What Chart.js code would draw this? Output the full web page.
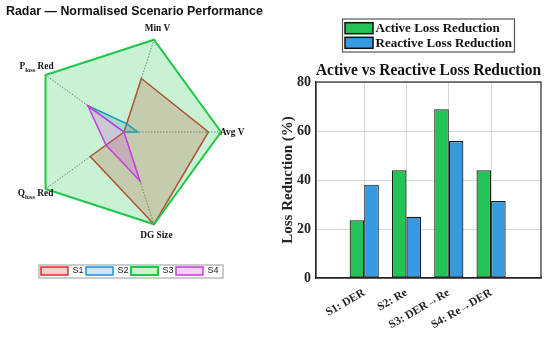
<!DOCTYPE html>
<html>
<head>
<meta charset="utf-8">
<script src="https://cdn.jsdelivr.net/npm/chart.js@4.4.0/dist/chart.umd.min.js"></script>
<style>
  body { margin: 0; background: #fff; }
  #wrap { position: relative; width: 550px; height: 341px; }
  #radar-box { position: absolute; left: 0; top: 0; width: 275px; height: 341px; }
  #bar-box { position: absolute; left: 275px; top: 0; width: 275px; height: 341px; }
  #radar-title { position: absolute; left: 6px; top: 4px; font: bold 12.4px 'Liberation Sans', Arial, sans-serif; color: #111; white-space: nowrap; }
</style>
</head>
<body>
<div id="wrap">
  <div id="radar-box"><canvas id="radar-chart" width="275" height="341"></canvas></div>
  <div id="radar-title">Radar — Normalised Scenario Performance</div>
  <div id="bar-box"><canvas id="bar-chart" width="275" height="341"></canvas></div>
</div>
<script>
// Radar data (normalised 0..1), axes listed clockwise starting from Avg V
const radarAxes = ['Avg V', 'DG Size', 'Q_loss Red', 'P_loss Red', 'Min V'];
const s1Values = [0.87, 1.0, 0.43, 0, 0.58];
const s2Values = [0.14, 0, 0, 0.46, 0.09];
const s3Values = [1, 1, 1, 1, 1];
const s4Values = [0, 0.53, 0.23, 0.46, 0];

// Bar data
const scenarios = ['S1: DER', 'S2: Re', 'S3: DER→Re', 'S4: Re→DER'];
const activeLoss = [23.6, 44, 68.9, 44];
const reactiveLoss = [38.1, 25, 55.9, 31.4];
const yTicks = [0, 20, 40, 60, 80];

const serif = "'Liberation Serif', 'Times New Roman', serif";
const sans = "'Liberation Sans', Arial, sans-serif";

// where each axis name sits relative to its outer vertex
const labelOffsets = [
    { dx: -1, dy: 0.5, align: 'left' },
    { dx: 2.5, dy: 11, align: 'center' },
    { dx: -10, dy: 5, align: 'center' },
    { dx: -9, dy: -8, align: 'center' },
    { dx: 3.5, dy: -11, align: 'center' }
];

// Axis names with subscripts (P_loss -> P + small "loss")
const radarLabels = {
    id: 'radarLabels',
    afterDraw(chart) {
        const scale = chart.scales.r;
        const ctx = chart.ctx;
        const mainFont = 'bold 9.3px ' + serif;
        const subFont = 'bold 6.5px ' + serif;
        ctx.save();
        ctx.fillStyle = '#111';
        ctx.textBaseline = 'middle';
        ctx.textAlign = 'left';
        chart.data.labels.forEach((label, i) => {
            const p = scale.getPointPosition(i, scale.drawingArea);
            const o = labelOffsets[i];
            const m = label.match(/^(.)_(\S+)(.*)$/);
            const parts = m
                ? [{ t: m[1], f: mainFont, dy: 0 }, { t: m[2], f: subFont, dy: 3.5 }, { t: m[3], f: mainFont, dy: 0 }]
                : [{ t: label, f: mainFont, dy: 0 }];
            let total = 0;
            parts.forEach(pt => { ctx.font = pt.f; pt.w = ctx.measureText(pt.t).width; total += pt.w; });
            let x = p.x + o.dx;
            if (o.align === 'center') x -= total / 2;
            parts.forEach(pt => {
                ctx.font = pt.f;
                ctx.fillText(pt.t, x, p.y + o.dy + pt.dy);
                x += pt.w;
            });
        });
        ctx.restore();
    }
};

// Grey frame around the radar legend
const legendFrame = {
    id: 'legendFrame',
    afterDraw(chart) {
        const boxes = chart.legend.legendHitBoxes;
        if (!boxes || !boxes.length) return;
        const l = Math.min(...boxes.map(b => b.left)) - 2.5;
        const r = Math.max(...boxes.map(b => b.left + b.width)) + 4;
        const t = Math.min(...boxes.map(b => b.top)) - 2;
        const btm = Math.max(...boxes.map(b => b.top + b.height)) + 2;
        const ctx = chart.ctx;
        ctx.save();
        ctx.strokeStyle = '#9a9a9a';
        ctx.lineWidth = 1;
        ctx.strokeRect(l + 0.5, t + 0.5, r - l, btm - t);
        ctx.restore();
    }
};

const radarChart = new Chart(document.getElementById('radar-chart'), {
    type: 'radar',
    data: {
        labels: radarAxes,
        datasets: [
            { label: 'S1', data: s1Values, order: 4, borderColor: 'rgb(222,45,45)', backgroundColor: 'rgba(230,60,60,0.25)', borderWidth: 1.5 },
            { label: 'S2', data: s2Values, order: 3, borderColor: 'rgb(30,145,220)', backgroundColor: 'rgba(60,150,230,0.25)', borderWidth: 1.5 },
            { label: 'S3', data: s3Values, order: 2, borderColor: 'rgb(30,200,70)', backgroundColor: 'rgba(40,200,80,0.25)', borderWidth: 2 },
            { label: 'S4', data: s4Values, order: 1, borderColor: 'rgb(200,60,220)', backgroundColor: 'rgba(210,80,220,0.25)', borderWidth: 1.5 }
        ]
    },
    options: {
        responsive: false,
        animation: false,
        layout: { padding: { left: 27, right: 54, top: 0, bottom: 55.5 } },
        elements: {
            point: { radius: 0 },
            line: { tension: 0, borderJoinStyle: 'miter', fill: true }
        },
        plugins: {
            legend: {
                position: 'bottom',
                align: 'end',
                reverse: true,
                labels: { boxWidth: 27, boxHeight: 8, padding: 2.5, color: '#222', font: { family: sans, size: 9 } }
            },
            tooltip: { enabled: false }
        },
        scales: {
            r: {
                min: 0,
                max: 1,
                startAngle: 90,
                ticks: { display: false },
                grid: { display: false },
                angleLines: { color: '#555', lineWidth: 0.8, borderDash: [1.5, 1.5] },
                pointLabels: { display: false }
            }
        }
    },
    plugins: [radarLabels, legendFrame]
});

// Box round the plot area
const plotFrame = {
    id: 'plotFrame',
    afterDraw(chart) {
        const { left, top, right, bottom } = chart.chartArea;
        const ctx = chart.ctx;
        ctx.save();
        ctx.strokeStyle = '#262626';
        ctx.lineWidth = 1.2;
        ctx.strokeRect(left, top, right - left, bottom - top);
        ctx.restore();
    }
};

// Framed two-row legend above the title
const barLegend = {
    id: 'barLegend',
    afterDraw(chart) {
        const ctx = chart.ctx;
        const area = chart.chartArea;
        const sets = chart.data.datasets;
        const sw = 28, sh = 11, rowH = 14.6;
        ctx.save();
        ctx.font = 'bold 13px ' + serif;
        const textW = Math.max(...sets.map(d => ctx.measureText(d.label).width));
        const w = 2.5 + sw + 2.5 + textW + 2.5;
        const h = 33;
        const left = (area.left + area.right) / 2 - w / 2;
        const top = 19;
        ctx.fillStyle = '#fff';
        ctx.fillRect(left, top, w, h);
        ctx.strokeStyle = '#555';
        ctx.lineWidth = 1.2;
        ctx.strokeRect(left, top, w, h);
        ctx.textBaseline = 'middle';
        sets.forEach((d, i) => {
            const y = top + 3.7 + i * rowH;
            ctx.fillStyle = d.backgroundColor;
            ctx.fillRect(left + 2.5, y, sw, sh);
            ctx.strokeStyle = '#111';
            ctx.lineWidth = 1.5;
            ctx.strokeRect(left + 2.5, y, sw, sh);
            ctx.fillStyle = '#111';
            ctx.fillText(d.label, left + 2.5 + sw + 2.5, y + sh / 2 + 0.5);
        });
        ctx.restore();
    }
};

const barChart = new Chart(document.getElementById('bar-chart'), {
    type: 'bar',
    data: {
        datasets: [
            {
                label: 'Active Loss Reduction',
                data: activeLoss.map((v, i) => ({ x: i + 1, y: v })),
                backgroundColor: '#22c455',
                borderColor: '#1a1a1a',
                borderWidth: 1.2,
                borderSkipped: false
            },
            {
                label: 'Reactive Loss Reduction',
                data: reactiveLoss.map((v, i) => ({ x: i + 1, y: v })),
                backgroundColor: '#3799e0',
                borderColor: '#1a1a1a',
                borderWidth: 1.2,
                borderSkipped: false
            }
        ]
    },
    options: {
        responsive: false,
        animation: false,
        categoryPercentage: 0.69,
        barPercentage: 1.0,
        layout: { padding: { top: 61.4, right: 9, left: 0, bottom: 0 } },
        plugins: {
            legend: { display: false },
            tooltip: { enabled: false },
            title: {
                display: true,
                text: 'Active vs Reactive Loss Reduction',
                fullSize: false,
                color: '#111',
                font: { family: serif, size: 16, weight: 'bold' },
                padding: { top: 0, bottom: 1.4 }
            }
        },
        scales: {
            x: {
                type: 'linear',
                min: -0.14,
                max: 5.18,
                offset: false,
                afterBuildTicks: s => { s.ticks = scenarios.map((c, i) => ({ value: i + 1 })); },
                afterFit: s => { s.height = 63; },
                ticks: {
                    callback: v => scenarios[v - 1],
                    autoSkip: false,
                    minRotation: 30,
                    maxRotation: 30,
                    padding: 8,
                    color: '#262626',
                    font: { family: serif, size: 11.5, weight: 'bold' }
                },
                grid: { offset: false, color: '#d8d8d8', drawTicks: false },
                border: { color: '#262626', width: 1.2 }
            },
            y: {
                min: 0,
                max: 80,
                afterBuildTicks: s => { s.ticks = yTicks.map(v => ({ value: v })); },
                afterFit: s => { s.width = 41; },
                ticks: {
                    padding: 5,
                    color: '#262626',
                    font: { family: serif, size: 14, weight: 'bold' }
                },
                title: {
                    display: true,
                    text: 'Loss Reduction (%)',
                    color: '#262626',
                    font: { family: serif, size: 15, weight: 'bold' },
                    padding: { top: 4, bottom: 0 }
                },
                grid: { color: '#d8d8d8', drawTicks: false },
                border: { color: '#262626', width: 1.2 }
            }
        }
    },
    plugins: [plotFrame, barLegend]
});
</script>
</body>
</html>
